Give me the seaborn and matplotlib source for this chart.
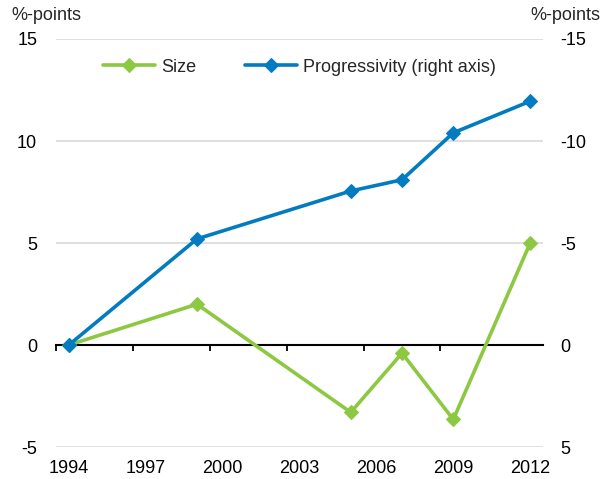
import matplotlib
matplotlib.use("Agg")
import matplotlib.pyplot as plt
import seaborn as sns
import pandas as pd

# ---- data ----
years = [1994, 1999, 2005, 2007, 2009, 2012]
size_vals = [0.0, 2.0, -3.3, -0.4, -3.65, 5.0]
progressivity_vals = [0.0, -5.2, -7.55, -8.1, -10.4, -11.95]
xtick_years = [1994, 1997, 2000, 2003, 2006, 2009, 2012]
left_ticks = [-5, 0, 5, 10, 15]
right_ticks = [-15, -10, -5, 0, 5]
series_labels = ["Size", "Progressivity (right axis)"]
unit_label = "%-points"

GREEN = "#8CC841"
BLUE = "#037BC1"
FS = 13

sns.set_theme(style="white")
plt.rcParams["font.family"] = ["Liberation Sans", "DejaVu Sans"]

df = pd.DataFrame({"year": years, "size": size_vals, "prog": progressivity_vals})

fig, ax = plt.subplots(figsize=(6.09, 4.79), dpi=100)
fig.subplots_adjust(left=56 / 609, right=543 / 609, bottom=1 - 447 / 479, top=1 - 39 / 479)
ax2 = ax.twinx()

sns.lineplot(data=df, x="year", y="size", ax=ax, color=GREEN, marker="D",
             markersize=7, markeredgecolor=GREEN, linewidth=2.6, legend=False)
sns.lineplot(data=df, x="year", y="prog", ax=ax2, color=BLUE, marker="D",
             markersize=7, markeredgecolor=BLUE, linewidth=2.6, legend=False)

ax.set_xlim(xtick_years[0] - 0.5, xtick_years[-1] + 0.5)
ax.set_ylim(left_ticks[0], left_ticks[-1])
ax2.set_ylim(right_ticks[-1], right_ticks[0])

ax.set_xticks(xtick_years)
ax.set_xticklabels([str(y) for y in xtick_years])
ax.set_yticks(left_ticks)
ax.set_yticklabels([str(t) for t in left_ticks])
ax2.set_yticks(right_ticks)
ax2.set_yticklabels([str(t) for t in right_ticks])

for a in (ax, ax2):
    a.set_xlabel("")
    a.set_ylabel("")
    for s in a.spines.values():
        s.set_visible(False)

ax.grid(False)
ax2.grid(False)
ax.yaxis.grid(True, color="#D9D9D9", linewidth=1.2)
ax.set_axisbelow(True)
# the zero gridline is replaced by the black zero axis
for t, gl in zip(left_ticks, ax.yaxis.get_gridlines()):
    if t == 0:
        gl.set_visible(False)

ax.tick_params(axis="x", length=0, pad=9.5, labelsize=FS, colors="black")
ax.tick_params(axis="y", length=0, pad=13.5, labelsize=FS, colors="black")
ax2.tick_params(axis="y", length=0, pad=12.5, labelsize=FS, colors="black")

# zero line with upward tick marks between categories
y0, y1 = ax.get_ylim()
zero_frac = (0 - y0) / (y1 - y0)
sec = ax.secondary_xaxis(zero_frac)
sec.set_xticks([y - 0.5 for y in xtick_years[:-1]])
sec.tick_params(axis="x", direction="out", length=4.5, width=1.3, color="black",
                labeltop=False, labelbottom=False)
for name, s in sec.spines.items():
    if name == "top":
        s.set_visible(True)
        s.set_color("black")
        s.set_linewidth(1.5)
    else:
        s.set_visible(False)

h1 = ax.get_lines()[0]
h2 = ax2.get_lines()[0]
ax2.legend([h1, h2], series_labels, loc="center", bbox_to_anchor=(0.5, 0.931),
           ncol=2, frameon=False, fontsize=FS, handlelength=2.9,
           columnspacing=2.7, handletextpad=0.33)

fig.text(11 / 609, 1 - 16 / 479, unit_label, ha="left", va="center", fontsize=FS)
fig.text(600 / 609, 1 - 16 / 479, unit_label, ha="right", va="center", fontsize=FS)

fig.savefig("out.png", dpi=100)
